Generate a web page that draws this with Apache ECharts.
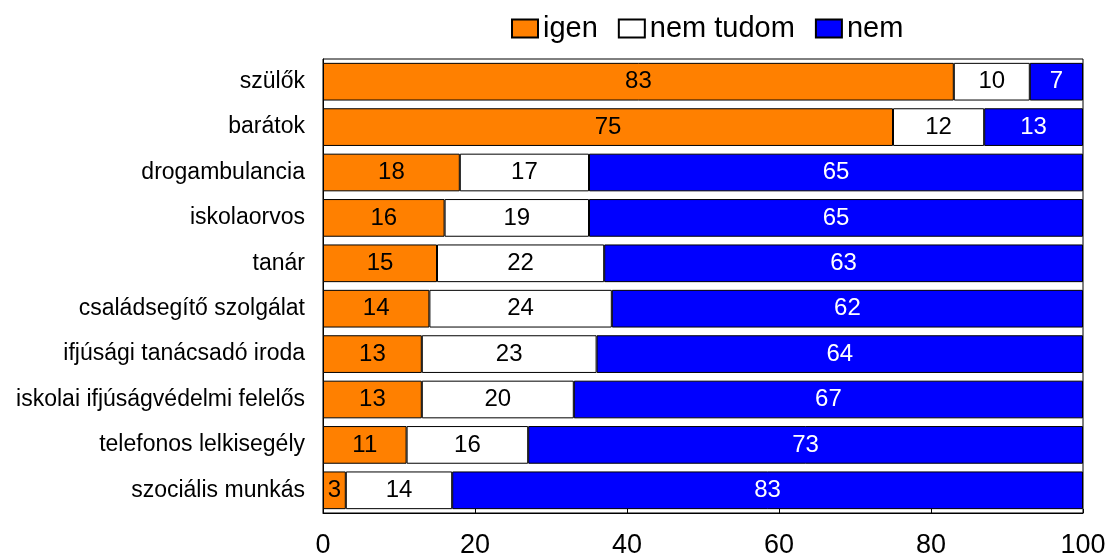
<!DOCTYPE html>
<html>
<head>
<meta charset="utf-8">
<script src="https://cdn.jsdelivr.net/npm/echarts@6/dist/echarts.min.js"></script>
<style>
  html, body { margin: 0; padding: 0; background: #fff; }
  #main { width: 1110px; height: 559px; }
</style>
</head>
<body>
<div id="main"></div>
<script>
// kategóriák (felülről lefelé)
var categories = [
  "szülők", "barátok", "drogambulancia", "iskolaorvos", "tanár",
  "családsegítő szolgálat", "ifjúsági tanácsadó iroda",
  "iskolai ifjúságvédelmi felelős", "telefonos lelkisegély", "szociális munkás"
];
var igen = [83, 75, 18, 16, 15, 14, 13, 13, 11, 3];
var nemTudom = [10, 12, 17, 19, 22, 24, 23, 20, 16, 14];
var nem = [7, 13, 65, 65, 63, 62, 64, 67, 73, 83];
var xTicks = [0, 20, 40, 60, 80, 100];

var chart = echarts.init(document.getElementById("main"));

function makeSeries(name, data, color, textColor) {
  return {
    name: name,
    type: "bar",
    stack: "total",
    barCategoryGap: "17%",
    data: data,
    itemStyle: { color: color, borderColor: "#000", borderWidth: 1 },
    label: {
      show: true,
      position: "inside",
      color: textColor,
      fontSize: 24,
      fontFamily: "Liberation Sans, Arial, sans-serif"
    }
  };
}

var option = {
  animation: false,
  backgroundColor: "#fff",
  textStyle: { fontFamily: "Liberation Sans, Arial, sans-serif" },
  legend: {
    top: 9,
    left: 506,
    icon: "rect",
    itemWidth: 26,
    itemHeight: 18,
    itemGap: 20,
    textStyle: { fontSize: 29, color: "#000" },
    data: ["igen", "nem tudom", "nem"]
  },
  grid: {
    left: 323,
    right: 27,
    top: 59,
    bottom: 42,
    show: true,
    borderColor: "#000",
    borderWidth: 1
  },
  xAxis: {
    type: "value",
    min: xTicks[0],
    max: xTicks[xTicks.length - 1],
    interval: 20,
    axisLine: { show: true, lineStyle: { color: "#000" } },
    axisTick: { show: true, inside: true, length: 4, lineStyle: { color: "#000" } },
    splitLine: { show: false },
    axisLabel: { fontSize: 27, color: "#000", margin: 19 }
  },
  yAxis: {
    type: "category",
    inverse: true,
    data: categories,
    axisLine: { show: true, lineStyle: { color: "#000" } },
    axisTick: { show: false },
    axisLabel: { fontSize: 23, color: "#000", margin: 18 }
  },
  series: [
    makeSeries("igen", igen, "#FF8000", "#000"),
    makeSeries("nem tudom", nemTudom, "#FFFFFF", "#000"),
    makeSeries("nem", nem, "#0000FF", "#FFFFFF")
  ]
};

chart.setOption(option);
</script>
</body>
</html>
